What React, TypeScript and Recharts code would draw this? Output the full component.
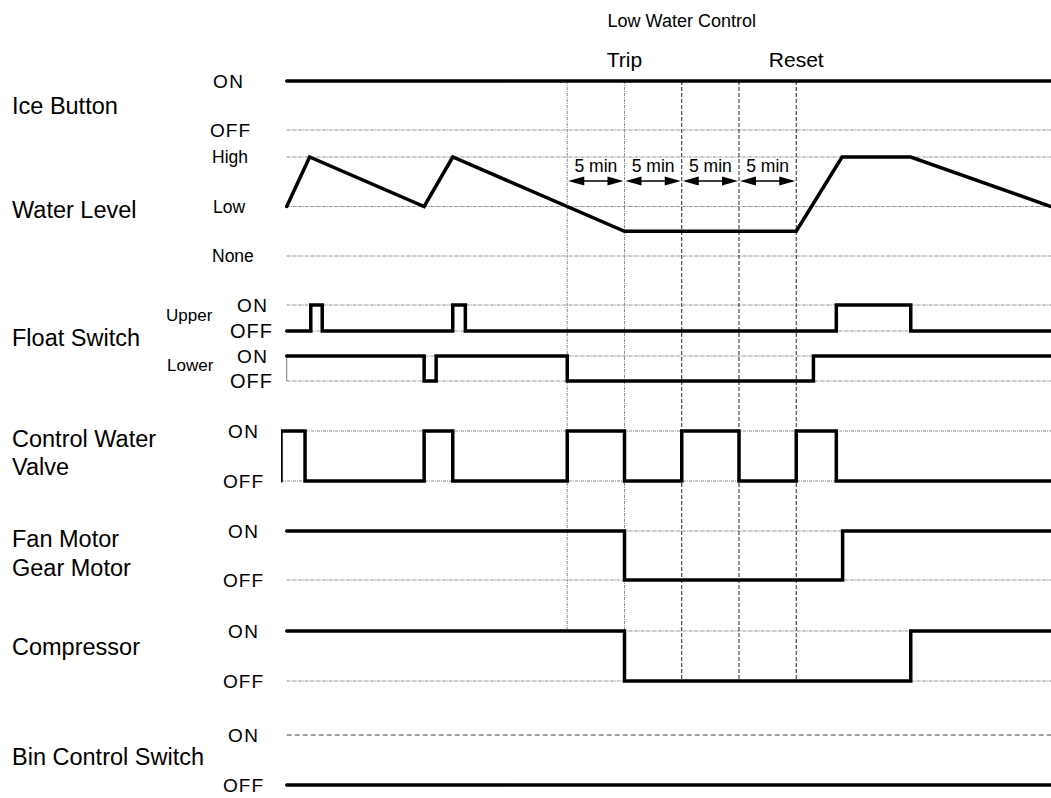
import React from 'react';
import { LineChart, Line, XAxis, YAxis, ReferenceLine } from 'recharts';

// ---------- data ----------
// time axis in minutes; [time, state]
const intervalMarks = [25, 30, 35, 40, 45];
const intervalLabel = '5 min';
const titleText = 'Low Water Control';
const tripText = 'Trip';
const resetText = 'Reset';
const T_END = 67.25;

// state: 1 = ON, 0 = OFF
const iceButton: [number, number][] = [[0.5, 1], [67.25, 1]];
// water level: 0 = None, 1 = Low, 2 = High
const waterLevel: [number, number][] = [
  [0.5, 1], [2.5, 2], [12.5, 1], [15, 2], [30, 0.5], [45, 0.5], [49, 2], [55, 2], [67.25, 1],
];
const floatUpper: [number, number][] = [
  [0.5, 0], [2.6, 1], [3.6, 0], [15, 1], [16.1, 0], [48.5, 1], [55, 0], [67.25, 0],
];
const floatLower: [number, number][] = [
  [0.5, 1], [12.5, 0], [13.55, 1], [25, 0], [46.5, 1], [67.25, 1],
];
const waterValve: [number, number][] = [
  [0, 0], [0, 1], [2.1, 0], [12.5, 1], [15, 0], [25, 1], [30, 0], [35, 1], [40, 0], [45, 1], [48.5, 0], [67.25, 0],
];
const fanGearMotor: [number, number][] = [[0.5, 1], [30, 0], [49.05, 1], [67.25, 1]];
const compressor: [number, number][] = [[0.5, 1], [30, 0], [55, 1], [67.25, 1]];
const binControl: [number, number][] = [[0.5, 0], [67.25, 0]];

// ---------- layout (lane positions in chart units) ----------
const LANE = {
  ice: { on: 0, off: 0.98 },
  upper: { on: 4.48, off: 5.0 },
  lower: { on: 5.5, off: 6.0 },
  valve: { on: 7.0, off: 8.0 },
  fan: { on: 9.0, off: 9.98 },
  comp: { on: 11.0, off: 12.0 },
  bin: { on: 13.08, off: 14.08 },
};
const WATER = { none: 3.5, step: 0.99 };
const ARROW_V = 2.0;

const FONT = '"Liberation Sans", Arial, sans-serif';

const binary = (d: [number, number][], lane: { on: number; off: number }) =>
  d.map(([t, s]) => ({ t, y: s ? lane.on : lane.off }));
const water = (d: [number, number][]) => d.map(([t, l]) => ({ t, y: WATER.none - l * WATER.step }));

type Lbl = { v: number; text: string; x: number; size: number; ls?: number };
const leftLabels: Lbl[] = [
  { v: 0, text: 'ON', x: 213, size: 19, ls: 1.5 },
  { v: LANE.ice.off, text: 'OFF', x: 210, size: 19, ls: 1 },
  { v: WATER.none - 2 * WATER.step, text: 'High', x: 212, size: 17.5 },
  { v: WATER.none - WATER.step, text: 'Low', x: 213, size: 17.5 },
  { v: WATER.none, text: 'None', x: 212, size: 17.5 },
  { v: LANE.upper.on, text: 'ON', x: 237, size: 19, ls: 1.5 },
  { v: LANE.upper.off, text: 'OFF', x: 230, size: 20, ls: 1 },
  { v: LANE.lower.on, text: 'ON', x: 237, size: 19, ls: 1.5 },
  { v: LANE.lower.off, text: 'OFF', x: 230, size: 20, ls: 1 },
  { v: LANE.valve.on, text: 'ON', x: 228, size: 19, ls: 1.5 },
  { v: LANE.valve.off, text: 'OFF', x: 223, size: 19, ls: 1 },
  { v: LANE.fan.on, text: 'ON', x: 228, size: 19, ls: 1.5 },
  { v: LANE.fan.off, text: 'OFF', x: 223, size: 19, ls: 1 },
  { v: LANE.comp.on, text: 'ON', x: 228, size: 19, ls: 1.5 },
  { v: LANE.comp.off, text: 'OFF', x: 223, size: 19, ls: 1 },
  { v: LANE.bin.on, text: 'ON', x: 228, size: 19, ls: 1.5 },
  { v: LANE.bin.off, text: 'OFF', x: 223, size: 19, ls: 1 },
  { v: 0.49, text: 'Ice Button', x: 12, size: 23.5 },
  { v: 2.58, text: 'Water Level', x: 12, size: 23.5 },
  { v: 4.68, text: 'Upper', x: 166, size: 17 },
  { v: 5.13, text: 'Float Switch', x: 12, size: 23.5 },
  { v: 5.68, text: 'Lower', x: 167, size: 17 },
  { v: 7.15, text: 'Control Water', x: 12, size: 23.5 },
  { v: 7.71, text: 'Valve', x: 12, size: 23.5 },
  { v: 9.16, text: 'Fan Motor', x: 12, size: 23.5 },
  { v: 9.73, text: 'Gear Motor', x: 12, size: 23.5 },
  { v: 11.32, text: 'Compressor', x: 12, size: 23.5 },
  { v: 13.52, text: 'Bin Control Switch', x: 12, size: 23.5 },
];

const LeftTick = (props: any) => {
  const val = props?.payload?.value;
  const item = leftLabels.find((l) => Math.abs(l.v - val) < 1e-9);
  if (!item) return null;
  return (
    <text
      x={item.x}
      y={props.y}
      fontSize={item.size}
      fontFamily={FONT}
      fill="#000"
      textAnchor="start"
      dominantBaseline="central"
      letterSpacing={item.ls ?? 0}
    >
      {item.text}
    </text>
  );
};

const gridLevels = [
  LANE.ice.off,
  WATER.none - 2 * WATER.step,
  WATER.none - WATER.step,
  WATER.none,
  LANE.upper.on, LANE.upper.off,
  LANE.lower.on, LANE.lower.off,
  LANE.valve.on, LANE.valve.off,
  LANE.fan.on, LANE.fan.off,
  LANE.comp.on, LANE.comp.off,
];

const vShape = (dark: boolean, label?: string, size = 21, above = 14) => (p: any) => (
  <g>
    <line
      x1={p.x1}
      y1={p.y1}
      x2={p.x2}
      y2={p.y2}
      stroke={dark ? '#222' : '#8a8a8a'}
      strokeWidth={1}
      strokeDasharray={dark ? '4 2' : '3 1 1 1'}
    />
    {label ? (
      <text x={p.x1} y={p.y1 - above} textAnchor="middle" fontSize={size} fontFamily={FONT} fill="#000">
        {label}
      </text>
    ) : null}
  </g>
);

const arrowShape = (p: any) => {
  const x1 = Math.min(p.x1, p.x2);
  const x2 = Math.max(p.x1, p.x2);
  const y = p.y1;
  const hl = 16;
  const hw = 4.5;
  const a = x1 + 1;
  const b = x2 - 1;
  return (
    <g>
      <line x1={a + 4} x2={b - 4} y1={y} y2={y} stroke="#000" strokeWidth={1.3} />
      <polygon points={`${a},${y} ${a + hl},${y - hw} ${a + hl},${y + hw}`} fill="#000" />
      <polygon points={`${b},${y} ${b - hl},${y - hw} ${b - hl},${y + hw}`} fill="#000" />
      <text x={(x1 + x2) / 2} y={y - 9} textAnchor="middle" fontSize={17.5} fontFamily={FONT} fill="#000">
        {intervalLabel}
      </text>
    </g>
  );
};

const series = [
  { key: 'ice', data: binary(iceButton, LANE.ice), type: 'linear' },
  { key: 'water', data: water(waterLevel), type: 'linear' },
  { key: 'upper', data: binary(floatUpper, LANE.upper), type: 'stepAfter' },
  { key: 'lower', data: binary(floatLower, LANE.lower), type: 'stepAfter' },
  { key: 'valve', data: binary(waterValve, LANE.valve), type: 'stepAfter' },
  { key: 'fan', data: binary(fanGearMotor, LANE.fan), type: 'stepAfter' },
  { key: 'comp', data: binary(compressor, LANE.comp), type: 'stepAfter' },
  { key: 'bin', data: binary(binControl, LANE.bin), type: 'stepAfter' },
];

export default function App() {
  return (
    <div style={{ position: 'absolute', left: 0, top: 0, width: 1051, height: 798, background: '#fff' }}>
      <LineChart width={1051} height={798} margin={{ top: 0, right: 0, bottom: 0, left: 0 }}>
        <XAxis dataKey="t" type="number" domain={[0, T_END]} hide allowDataOverflow />
        <YAxis
          type="number"
          domain={[-1.62, 14.34]}
          reversed
          allowDataOverflow
          width={281}
          axisLine={false}
          tickLine={false}
          ticks={leftLabels.map((l) => l.v)}
          interval={0}
          tick={<LeftTick />}
        />
        {gridLevels.map((v, i) => (
          <ReferenceLine
            key={'g' + i}
            segment={[{ x: i === 9 || i === 8 ? 0 : 0.5, y: v }, { x: T_END, y: v }]}
            stroke="#8a8a8a"
            strokeWidth={1}
            strokeDasharray="3 1 1 1"
          />
        ))}
        <ReferenceLine
          segment={[{ x: 0.5, y: LANE.bin.on }, { x: T_END, y: LANE.bin.on }]}
          stroke="#444"
          strokeWidth={1}
          strokeDasharray="5 3"
        />
        <ReferenceLine
          segment={[{ x: 0.5, y: LANE.lower.on }, { x: 0.5, y: LANE.lower.off }]}
          stroke="#777"
          strokeWidth={1}
        />
        <ReferenceLine segment={[{ x: intervalMarks[0], y: 0 }, { x: intervalMarks[0], y: LANE.comp.on }]} shape={vShape(false)} />
        <ReferenceLine segment={[{ x: intervalMarks[1], y: 0 }, { x: intervalMarks[1], y: LANE.comp.off }]} shape={vShape(false, tripText)} />
        <ReferenceLine segment={[{ x: intervalMarks[2], y: 0 }, { x: intervalMarks[2], y: LANE.comp.off }]} shape={vShape(true, titleText, 18, 54)} />
        <ReferenceLine segment={[{ x: intervalMarks[3], y: 0 }, { x: intervalMarks[3], y: LANE.comp.off }]} shape={vShape(true)} />
        <ReferenceLine segment={[{ x: intervalMarks[4], y: 0 }, { x: intervalMarks[4], y: LANE.comp.off }]} shape={vShape(true, resetText)} />
        {intervalMarks.slice(0, -1).map((t, i) => (
          <ReferenceLine
            key={'a' + i}
            segment={[{ x: t, y: ARROW_V }, { x: intervalMarks[i + 1], y: ARROW_V }]}
            shape={arrowShape}
          />
        ))}
        {series.map((s) => (
          <Line
            key={s.key}
            data={s.data}
            dataKey="y"
            type={s.type as any}
            stroke="#000"
            strokeWidth={3.5}
            strokeLinecap="round"
            strokeLinejoin="miter"
            dot={false}
            activeDot={false}
            isAnimationActive={false}
          />
        ))}
      </LineChart>
    </div>
  );
}
